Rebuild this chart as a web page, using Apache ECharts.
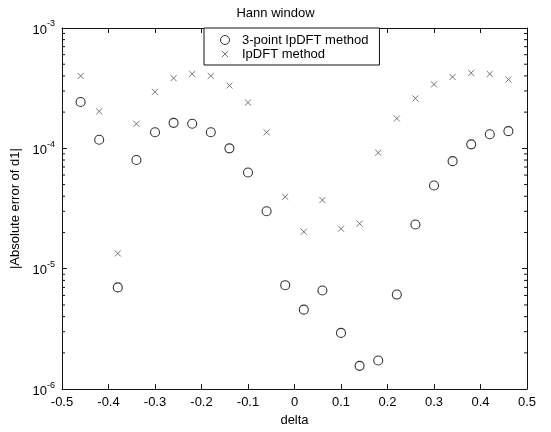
<!DOCTYPE html>
<html>
<head>
<meta charset="utf-8">
<script src="https://cdn.jsdelivr.net/npm/echarts@6/dist/echarts.min.js"></script>
<style>
  html, body { margin: 0; padding: 0; background: #fff; }
  #chart { width: 551px; height: 432px; }
</style>
</head>
<body>
<div id="chart"></div>
<script>
// Frequency offset (bins) at which each estimator was evaluated
const deltas = [-0.46, -0.42, -0.38, -0.34, -0.30, -0.26, -0.22, -0.18, -0.14, -0.10, -0.06, -0.02,
                 0.02, 0.06, 0.10, 0.14, 0.18, 0.22, 0.26, 0.30, 0.34, 0.38, 0.42, 0.46];

// |Absolute error of d1| for the 3-point IpDFT method
const err3Point = [2.43e-4, 1.18e-4, 7.0e-6, 8.0e-5, 1.36e-4, 1.63e-4, 1.60e-4, 1.36e-4, 1.0e-4, 6.3e-5, 3.0e-5, 7.3e-6,
                   4.57e-6, 6.6e-6, 2.93e-6, 1.56e-6, 1.73e-6, 6.1e-6, 2.33e-5, 4.91e-5, 7.83e-5, 1.08e-4, 1.31e-4, 1.39e-4];

// |Absolute error of d1| for the plain IpDFT method
const errIpDFT = [4.0e-4, 2.03e-4, 1.34e-5, 1.60e-4, 2.95e-4, 3.83e-4, 4.15e-4, 4.0e-4, 3.33e-4, 2.4e-4, 1.36e-4, 3.96e-5,
                  2.03e-5, 3.72e-5, 2.15e-5, 2.37e-5, 9.2e-5, 1.77e-4, 2.6e-4, 3.4e-4, 3.92e-4, 4.23e-4, 4.15e-4, 3.73e-4];

const seriesNames = ['3-point IpDFT method', 'IpDFT method'];
const yDecades = [-6, -5, -4, -3];
const minorMultipliers = [2, 3, 4, 5, 6, 7, 8, 9];

const FONT = '"Liberation Sans", Arial, Helvetica, sans-serif';
const AXIS_COLOR = '#111';

// minor log ticks (2..9 within each decade)
const minorTickValues = [];
for (let i = 0; i < yDecades.length - 1; i++) {
  for (const m of minorMultipliers) minorTickValues.push(m * Math.pow(10, yDecades[i]));
}

// cross marker; the outer moveTo points pad the bounding box so the X is drawn smaller than the box
const CROSS = 'path://M-0.2,-0.2M0,0L1,1M1,0L0,1M1.2,1.2';

const chart = echarts.init(document.getElementById('chart'), null, { renderer: 'canvas' });

const xAxisCommon = {
  type: 'value',
  min: -0.5,
  max: 0.5,
  interval: 0.1,
  splitLine: { show: false },
  axisLine: { show: true, onZero: false, lineStyle: { color: AXIS_COLOR, width: 1 } },
  axisTick: { show: true, inside: true, length: 5, lineStyle: { color: AXIS_COLOR } }
};

const yAxisCommon = {
  type: 'log',
  logBase: 10,
  min: 1e-6,
  max: 1e-3,
  splitLine: { show: false },
  axisLine: { show: true, onZero: false, lineStyle: { color: AXIS_COLOR, width: 1 } },
  axisTick: { show: true, inside: true, length: 5, lineStyle: { color: AXIS_COLOR } }
};

chart.setOption({
  animation: false,
  backgroundColor: '#fff',
  textStyle: { fontFamily: FONT },
  title: {
    text: 'Hann window',
    left: 'center',
    top: 2,
    textStyle: { fontFamily: FONT, fontSize: 13, fontWeight: 'normal', color: '#000' }
  },
  grid: { left: 62, right: 24, top: 28, bottom: 39, containLabel: false },
  legend: {
    orient: 'vertical',
    left: 204,
    top: 28,
    padding: [5, 11, 4, 16],
    itemGap: 0,
    itemWidth: 24,
    itemHeight: 9,
    borderColor: AXIS_COLOR,
    borderWidth: 1,
    backgroundColor: '#fff',
    itemStyle: { borderWidth: 1 },
    textStyle: { fontFamily: FONT, fontSize: 13, color: '#000', lineHeight: 14 },
    data: [
      { name: seriesNames[0], icon: 'circle', itemStyle: { color: 'rgba(0,0,0,0)', borderColor: '#000', borderWidth: 1 } },
      { name: seriesNames[1], icon: CROSS, itemStyle: { color: 'rgba(0,0,0,0)', borderColor: '#555', borderWidth: 1 } }
    ]
  },
  xAxis: [
    Object.assign({}, xAxisCommon, {
      position: 'bottom',
      name: 'delta',
      nameLocation: 'middle',
      nameGap: 24,
      nameTextStyle: { fontFamily: FONT, fontSize: 13, color: '#000' },
      axisLabel: {
        margin: 7,
        fontFamily: FONT,
        fontSize: 13,
        color: '#000',
        formatter: v => String(Math.round(v * 10) / 10)
      }
    }),
    Object.assign({}, xAxisCommon, { position: 'top', axisLabel: { show: false } })
  ],
  yAxis: [
    Object.assign({}, yAxisCommon, {
      position: 'left',
      name: '|Absolute error of d1|',
      nameLocation: 'middle',
      nameGap: 30,
      nameTextStyle: { fontFamily: FONT, fontSize: 13, color: '#000' },
      axisLabel: {
        margin: 7,
        formatter: v => '{b|10}{s|' + Math.round(Math.log10(v)) + '}',
        rich: {
          b: { fontFamily: FONT, fontSize: 13, color: '#000', verticalAlign: 'bottom' },
          s: { fontFamily: FONT, fontSize: 9, color: '#000', verticalAlign: 'top', padding: [0, 0, 8, 0] }
        }
      }
    }),
    Object.assign({}, yAxisCommon, { position: 'right', axisLabel: { show: false } })
  ],
  series: [
    {
      name: seriesNames[0],
      type: 'scatter',
      xAxisIndex: 0,
      yAxisIndex: 0,
      symbol: 'circle',
      symbolSize: 9,
      itemStyle: { color: 'rgba(0,0,0,0)', borderColor: '#000', borderWidth: 1.1 },
      data: deltas.map((d, i) => [d, err3Point[i]]),
      z: 3
    },
    {
      name: seriesNames[1],
      type: 'scatter',
      xAxisIndex: 0,
      yAxisIndex: 0,
      symbol: CROSS,
      symbolSize: 8.5,
      itemStyle: { color: 'rgba(0,0,0,0)', borderColor: '#555', borderWidth: 1 },
      data: deltas.map((d, i) => [d, errIpDFT[i]]),
      z: 3
    },
    {
      // minor log-scale ticks on both vertical edges of the axes box
      type: 'custom',
      xAxisIndex: 0,
      yAxisIndex: 0,
      silent: true,
      clip: false,
      data: minorTickValues.map(v => [0, v]),
      renderItem: (params, api) => {
        const v = api.value(1);
        const pl = api.coord([-0.5, v]);
        const pr = api.coord([0.5, v]);
        const style = { stroke: AXIS_COLOR, lineWidth: 1 };
        return {
          type: 'group',
          children: [
            { type: 'line', shape: { x1: pl[0], y1: pl[1], x2: pl[0] + 3, y2: pl[1] }, style },
            { type: 'line', shape: { x1: pr[0] - 3, y1: pr[1], x2: pr[0], y2: pr[1] }, style }
          ]
        };
      },
      z: 1
    }
  ]
});
</script>
</body>
</html>
